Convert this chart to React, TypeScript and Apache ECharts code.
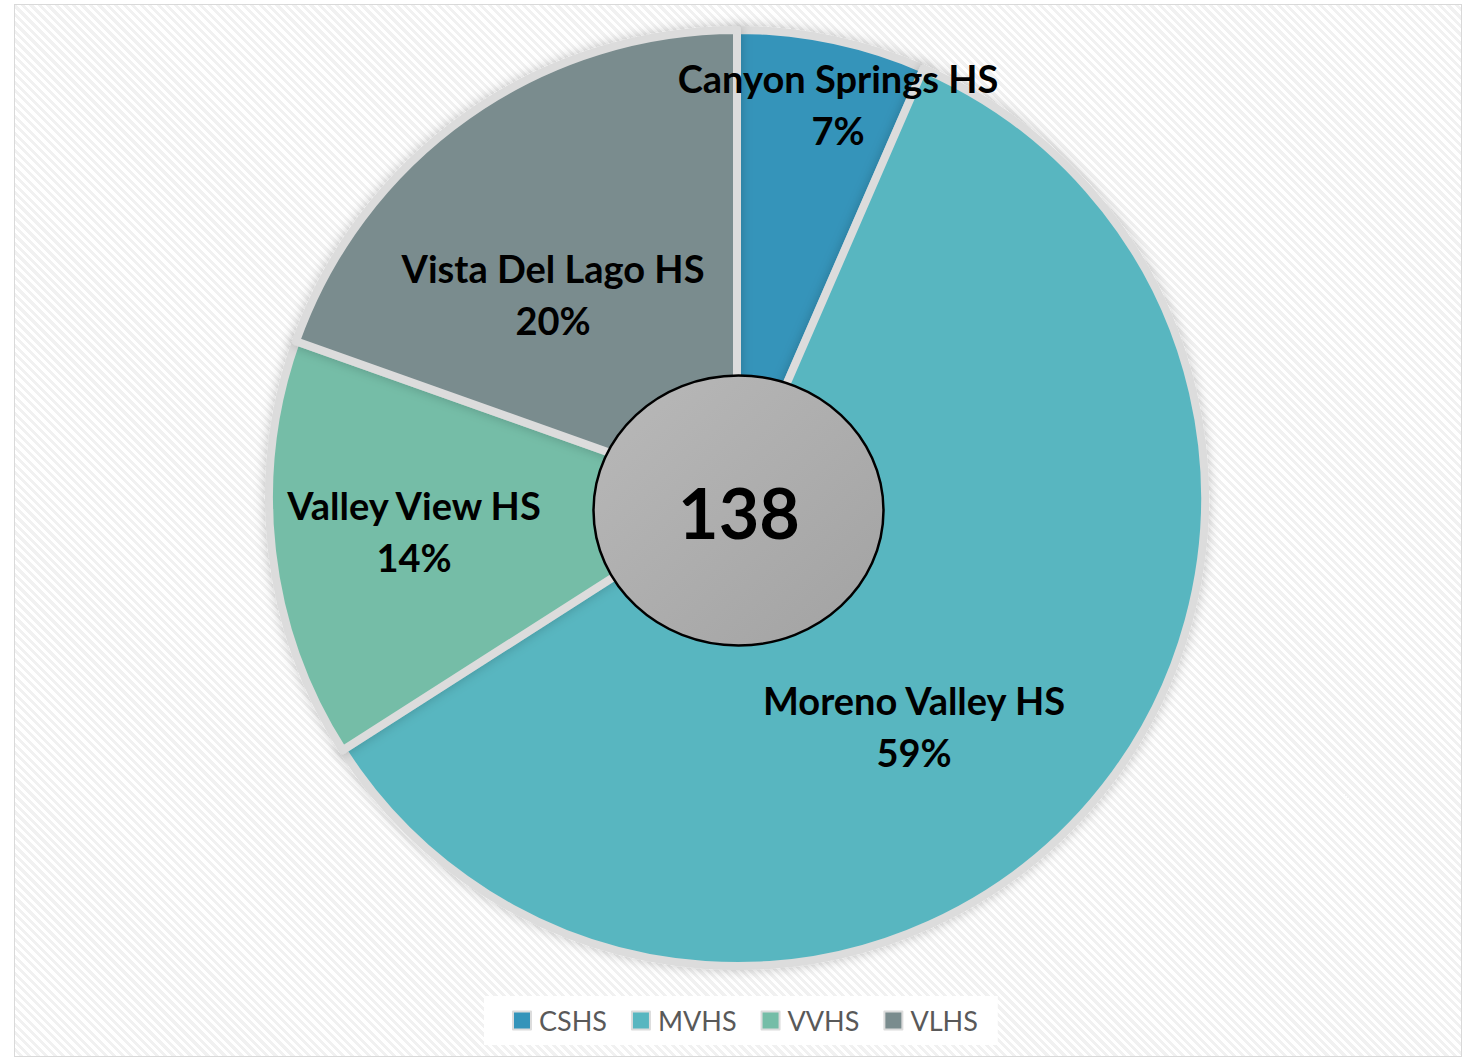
import React, { useEffect, useRef } from "react";
import * as echarts from "echarts";

const CATEGORIES = ["CSHS", "MVHS", "VVHS", "VLHS"];
const FULL_NAMES = ["Canyon Springs HS", "Moreno Valley HS", "Valley View HS", "Vista Del Lago HS"];
const VALUES = [9, 82, 20, 27];
const TOTAL_LABEL = "138";
const COLORS = ["#3494BA", "#58B6C0", "#75BDA7", "#7A8C8E"];
// label centre offsets relative to the pie centre (px)
const LABEL_OFFSETS: [number, number][] = [
  [101, -394],
  [177, 228],
  [-323, 33],
  [-184, -204],
];

const PIE_CX = 737;
const PIE_CY = 498;
const FONT = "Lato, 'Open Sans', sans-serif";

export default function App() {
  const ref = useRef<HTMLDivElement>(null);
  useEffect(() => {
    document.body.style.margin = "0";
    if (!ref.current) return;
    const chart = echarts.init(ref.current, null, { renderer: "svg" });
    const option: any = {
      animation: false,
      backgroundColor: "transparent",
      color: COLORS,
      legend: {
        data: CATEGORIES,
        left: 484,
        top: 996,
        orient: "horizontal",
        backgroundColor: "#ffffff",
        padding: [11, 20, 11, 28],
        itemWidth: 18,
        itemHeight: 18,
        itemGap: 24,
        icon: "rect",
        textStyle: { fontSize: 27, color: "#595959", fontFamily: FONT, padding: [0, 0, 0, 3] },
      },
      series: [
        {
          type: "pie",
          center: [PIE_CX, PIE_CY],
          radius: [0, 468],
          startAngle: 90,
          clockwise: true,
          avoidLabelOverlap: false,
          itemStyle: {
            borderColor: "#dcdcdc",
            borderWidth: 8,
            shadowBlur: 12,
            shadowColor: "rgba(0,0,0,0.22)",
          },
          label: {
            show: true,
            position: "inside",
            formatter: (p: any) => `${FULL_NAMES[p.dataIndex]}\n${Math.round(p.percent)}%`,
            fontSize: 38,
            fontWeight: "bold",
            fontFamily: FONT,
            color: "#000000",
            lineHeight: 52,
            align: "center",
          },
          labelLine: { show: false },
          labelLayout: (params: any) => {
            const off = LABEL_OFFSETS[params.dataIndex];
            return {
              x: PIE_CX + off[0],
              y: PIE_CY + off[1],
              align: "center",
              verticalAlign: "middle",
            };
          },
          emphasis: { disabled: true },
          data: CATEGORIES.map((c, i) => ({ name: c, value: VALUES[i] })),
        },
      ],
      graphic: [
        {
          type: "ellipse",
          shape: { cx: 738.5, cy: 510.5, rx: 145, ry: 135 },
          style: {
            fill: new echarts.graphic.LinearGradient(0, 0, 1, 1, [
              { offset: 0, color: "#b9b9b9" },
              { offset: 1, color: "#a2a2a2" },
            ]),
            stroke: "#000000",
            lineWidth: 2.5,
          },
          z: 100,
        },
        {
          type: "text",
          x: 739,
          y: 512,
          style: {
            text: TOTAL_LABEL,
            fontSize: 70,
            fontWeight: "bold",
            fontFamily: FONT,
            fill: "#000000",
            align: "center",
            verticalAlign: "middle",
          },
          z: 101,
        },
      ],
    };
    chart.setOption(option);
    return () => chart.dispose();
  }, []);

  return (
    <div style={{ position: "relative", width: 1463, height: 1058, background: "#ffffff", overflow: "hidden" }}>
      <div
        style={{
          position: "absolute",
          left: 14,
          top: 4,
          width: 1446,
          height: 1051,
          border: "1.5px solid #d9d9d9",
          background:
            "repeating-linear-gradient(45deg, #ffffff 0px, #ffffff 3px, #f1f1f1 3px, #f1f1f1 6px)",
        }}
      />
      <div ref={ref} style={{ position: "absolute", left: 0, top: 0, width: 1463, height: 1058 }} />
    </div>
  );
}
